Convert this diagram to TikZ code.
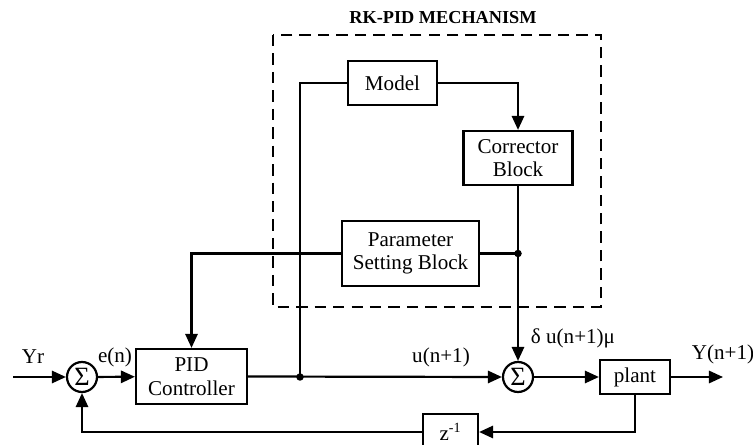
\documentclass[tikz,border=0pt]{standalone}
\usepackage{fontspec}
\setmainfont{Liberation Serif}
\usetikzlibrary{arrows.meta}

\begin{document}
\begin{tikzpicture}[x=0.02cm, y=-0.02cm, line width=1.25pt, >={Triangle[length=8pt,width=7pt]},
  block/.style={draw, rectangle, align=center, inner sep=0pt, font=\fontsize{12}{13.5}\selectfont},
  sumnode/.style={draw, circle, minimum size=0.6cm, inner sep=0pt, font=\fontsize{15}{15}\selectfont},
  lbl/.style={font=\fontsize{12}{13}\selectfont},
  junction/.style={circle, fill, inner sep=0pt, minimum size=0.15cm}]
  \useasboundingbox (0,0) rectangle (753,445);

  % RK-PID mechanism frame
  \draw[line width=0.7pt, dash pattern=on 6.5pt off 4pt] (273,35) rectangle (601,307);
  \node [font=\fontsize{10.4}{12}\selectfont\bfseries] (title) at (443,18) {RK-PID MECHANISM};

  \node [block, minimum width=1.78cm, minimum height=0.88cm] (model) at (392.5,83) {Model};
  \node [block, minimum width=2.18cm, minimum height=1.08cm] (corr) at (518,158) {Corrector\\Block};
  \node [block, minimum width=2.74cm, minimum height=1.3cm] (param) at (410.5,253.5) {Parameter\\Setting Block};
  \node [block, minimum width=2.22cm, minimum height=1.1cm] (pid) at (191.5,376.5) {PID\\Controller};
  \node [block, minimum width=1.4cm, minimum height=0.68cm] (plant) at (635,377) {plant};
  \node [block, minimum width=1.1cm, minimum height=0.72cm] (zinv) at (450.5,432) {z\textsuperscript{-1}};

  \node [sumnode] (sum1) at (82,377) {Σ};
  \node [sumnode] (sum2) at (518,377) {Σ};

  \coordinate (yrin) at (13,377);
  \coordinate (yout) at (723,377);
  \node [junction] (tap) at (300,377) {};
  \node [junction] (junc) at (518,253.5) {};

  % forward path
  \draw[->] (yrin) -- (sum1);
  \draw[->] (sum1) -- (pid);
  \draw[->] (pid.east) -- (sum2.west);
  \draw[->] (sum2) -- (plant);
  \draw[->] (plant) -- (yout);

  % mechanism
  \draw (tap.center) |- (model.west);
  \draw[->] (model.east) -| (corr.north);
  \draw[->] (corr.south) -- (sum2.north);
  \draw (junc.center) -- (param.east);
  \draw[->] (param.west) -| (pid.north);

  % feedback
  \draw[->] (plant.south) |- (zinv.east);
  \draw[->] (zinv.west) -| (sum1.south);

  \node [lbl] (yrlbl) at (33,357) {Yr};
  \node [lbl] (elbl) at (115,357) {e(n)};
  \node [lbl] (ulbl) at (441,357) {u(n+1)};
  \node [lbl] (dlbl) at (573,338) {δ u(n+1)μ};
  \node [lbl] (ylbl) at (723,354) {Y(n+1)};
\end{tikzpicture}
\end{document}
